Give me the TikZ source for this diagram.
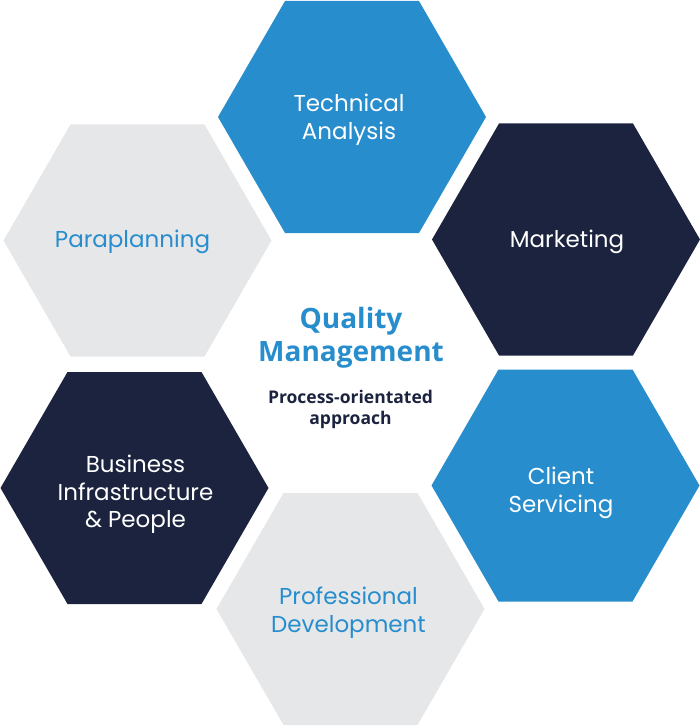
\documentclass[tikz,border=0pt]{standalone}
\usepackage{fontspec}
\newfontfamily\popp{Poppins}
\newfontfamily\opsans{Open Sans}
\definecolor{hexblue}{HTML}{278DCD}
\definecolor{hexnavy}{HTML}{1B233F}
\definecolor{hexgrey}{HTML}{E6E7E9}
\newcommand\hexcell[3]{%
  \fill[#3, shift={(#1,#2)}] (-134,0) -- (-67,-116) -- (67,-116) -- (134,0) -- (67,116) -- (-67,116) -- cycle;}
\tikzset{
  hexlabel/.style={align=center, inner sep=0pt, font=\popp\fontsize{23}{27.5}\selectfont},
  onblue/.style={hexlabel, text=white},
  ongrey/.style={hexlabel, text=hexblue},
}
\begin{document}
\begin{tikzpicture}[x=1pt,y=-1pt]
\useasboundingbox (0,0) rectangle (700,727);
\hexcell{352}{117}{hexblue}
\hexcell{566}{239.5}{hexnavy}
\hexcell{137.5}{240.5}{hexgrey}
\hexcell{134.5}{488}{hexnavy}
\hexcell{565.5}{485.5}{hexblue}
\hexcell{350.5}{609}{hexgrey}
\node[onblue] (ta) at (349,119.5) {Technical\\Analysis};
\node[onblue] (mk) at (567,242) {Marketing};
\node[ongrey] (pp) at (132.5,241.5) {Paraplanning};
\node[onblue] (bi) at (135.5,494.5) {Business\\Infrastructure\\\& People};
\node[onblue] (cs) at (561,493) {Client\\Servicing};
\node[ongrey] (pd) at (348.5,612.5) {Professional\\Development};
\node[align=center, inner sep=0pt, text=hexblue, font=\opsans\bfseries\fontsize{28}{33}\selectfont] (qm) at (351,338) {Quality\\Management};
\node[align=center, inner sep=0pt, text=hexnavy, font=\opsans\bfseries\fontsize{17.5}{21}\selectfont] (po) at (350.5,409) {Process-orientated\\approach};
\end{tikzpicture}
\end{document}
